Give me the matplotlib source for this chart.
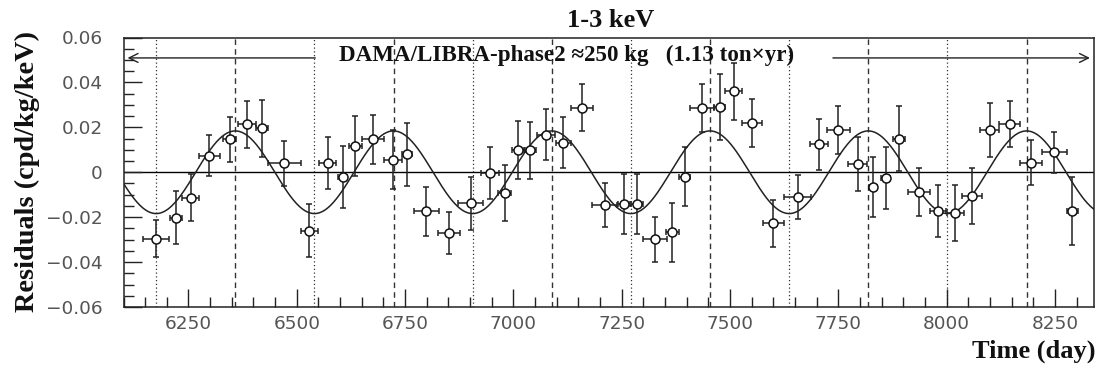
import numpy as np
import matplotlib
matplotlib.use("Agg")
import matplotlib.pyplot as plt
from matplotlib.ticker import MultipleLocator

# residual rate data (1-3 keV)
days = [6175, 6221, 6255, 6298, 6345, 6385, 6419, 6471, 6529, 6571,
        6606, 6635, 6676, 6722, 6755, 6799, 6851, 6901, 6945, 6980,
        7011, 7038, 7075, 7115, 7158, 7211, 7256, 7285, 7327, 7366,
        7395, 7435, 7476, 7508, 7551, 7600, 7656, 7706, 7750, 7795,
        7830, 7859, 7890, 7936, 7980, 8020, 8059, 8099, 8145, 8195,
        8248, 8290]
resid = [-0.0295, -0.0203, -0.0113, 0.0074, 0.0147, 0.0214, 0.0195, 0.0040, -0.0261, 0.0040,
         -0.0022, 0.0117, 0.0147, 0.0055, 0.0080, -0.0173, -0.0270, -0.0139, -0.0005, -0.0091,
         0.0097, 0.0097, 0.0168, 0.0132, 0.0288, -0.0146, -0.0142, -0.0142, -0.0299, -0.0267,
         -0.0020, 0.0286, 0.0290, 0.0360, 0.0219, -0.0228, -0.0109, 0.0125, 0.0189, 0.0036,
         -0.0064, -0.0024, 0.0150, -0.0089, -0.0173, -0.0180, -0.0104, 0.0189, 0.0216, 0.0043,
         0.0088, -0.0173]
yerr = [0.0082, 0.0118, 0.0104, 0.0090, 0.0101, 0.0104, 0.0125, 0.0100, 0.0118, 0.0116,
        0.0137, 0.0134, 0.0109, 0.0131, 0.0141, 0.0109, 0.0094, 0.0119, 0.0116, 0.0124,
        0.0129, 0.0125, 0.0115, 0.0113, 0.0106, 0.0097, 0.0134, 0.0134, 0.0101, 0.0131,
        0.0131, 0.0109, 0.0147, 0.0126, 0.0107, 0.0104, 0.0097, 0.0113, 0.0107, 0.0119,
        0.0134, 0.0138, 0.0143, 0.0107, 0.0116, 0.0124, 0.0125, 0.0119, 0.0103, 0.0101,
        0.0091, 0.0153]
xerr = [30, 14, 20, 24, 15, 21, 14, 38, 19, 19,
        11, 15, 25, 21, 12, 29, 25, 28, 21, 15,
        15, 13, 20, 17, 25, 29, 14, 14, 27, 15,
        13, 27, 13, 19, 23, 25, 31, 21, 26, 22,
        10, 10, 13, 26, 19, 20, 23, 22, 25, 25,
        29, 13]

# cosine model
amp = 0.0184
period = 365.25
t_peak = 6358

peaks = [t_peak + k * period for k in range(6)]
troughs = [t_peak - period / 2 + k * period for k in range(6)]

xticks = [6250, 6500, 6750, 7000, 7250, 7500, 7750, 8000, 8250]
yticks = [-0.06, -0.04, -0.02, 0, 0.02, 0.04, 0.06]
ytick_labels = ["\u22120.06", "\u22120.04", "\u22120.02", "0", "0.02", "0.04", "0.06"]

serif = ["Liberation Serif", "DejaVu Serif"]
xmin, xmax = 6100, 8340

fig = plt.figure(figsize=(10.96, 3.70), dpi=100)
ax = fig.add_axes([123.5 / 1096, 63 / 370, 970.5 / 1096, 269.5 / 370])

for p in peaks:
    ax.axvline(p, color="#333333", lw=1, ls=(0, (4, 3)), zorder=1)
for t in troughs:
    ax.axvline(t, color="#333333", lw=0.9, ls=(0, (1, 2)), zorder=1)

ax.axhline(0, color="black", lw=1, zorder=1)

tt = np.linspace(xmin, xmax, 1000)
ax.plot(tt, amp * np.cos(2 * np.pi / period * (tt - t_peak)), color="#222222", lw=1.1, zorder=2)

ax.errorbar(days, resid, yerr=yerr, xerr=xerr, fmt="o", mfc="white", mec="#111111",
            ms=6.5, mew=1.1, ecolor="#222222", elinewidth=1.1, capsize=2.3, capthick=1.1, zorder=3)

# exposure arrows and label
y_arr = 0.0509
ax.annotate("", xy=(xmin + 3, y_arr), xytext=(6549, y_arr),
            arrowprops=dict(arrowstyle="->", lw=1, color="#222222", mutation_scale=16))
ax.annotate("", xy=(xmax - 3, y_arr), xytext=(7731, y_arr),
            arrowprops=dict(arrowstyle="->", lw=1, color="#222222", mutation_scale=16))
ax.text(7122, 0.0497, "DAMA/LIBRA-phase2 \u2248250 kg   (1.13 ton\u00d7yr)", family=serif,
        fontweight="bold", fontsize=16.6, ha="center", va="baseline", color="#111111")

ax.set_xlim(xmin, xmax)
ax.set_ylim(-0.06, 0.06)
ax.set_xticks(xticks)
ax.set_yticks(yticks)
ax.set_yticklabels(ytick_labels)
ax.xaxis.set_minor_locator(MultipleLocator(50))
ax.yaxis.set_minor_locator(MultipleLocator(0.005))
ax.tick_params(which="both", direction="in", top=False, right=False, color="#222222")
ax.tick_params(which="major", length=13, width=1)
ax.tick_params(which="minor", length=7, width=1)
ax.tick_params(axis="y", pad=15)
ax.tick_params(axis="x", pad=6)
for lab in ax.get_xticklabels() + ax.get_yticklabels():
    lab.set_family(["DejaVu Sans"])
    lab.set_fontsize(13.3)
    lab.set_color("#555555")
for s in ax.spines.values():
    s.set_linewidth(1.1)
    s.set_color("#222222")

fig.text(611 / 1096, 1 - 27 / 370, "1-3 keV", family=serif, fontweight="bold",
         fontsize=19, ha="center", va="baseline", color="#111111")
fig.text(27 / 1096, 1 - 171 / 370, "Residuals (cpd/kg/keV)", family=serif, fontweight="bold",
         fontsize=20.3, ha="center", va="center", rotation=90, color="#111111")
fig.text(1095 / 1096, 1 - 358 / 370, "Time (day)", family=serif, fontweight="bold",
         fontsize=19, ha="right", va="baseline", color="#111111")

fig.savefig("out.png", dpi=100)
